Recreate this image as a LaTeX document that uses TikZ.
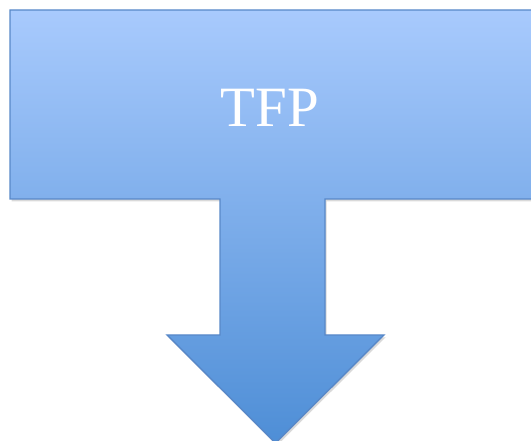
\documentclass[tikz,border=0pt]{standalone}
\usepackage{fontspec}
\setmainfont{Liberation Serif}
\usepackage{tikz}
\usetikzlibrary{positioning,shadows}

\definecolor{tfptop}{RGB}{168,202,253}
\definecolor{tfpbottom}{RGB}{78,142,214}
\definecolor{tfpedge}{RGB}{88,136,200}

\tikzset{
  tarrow/.style={draw=tfpedge,line width=1.4pt,line join=miter,
    top color=tfptop,bottom color=tfpbottom,
    drop shadow={opacity=.3,shadow xshift=1.5pt,shadow yshift=-2.5pt}},
  tlabel/.style={text=white,font=\fontsize{57}{60}\selectfont,inner sep=0pt}
}

\begin{document}
\begin{tikzpicture}
            [
                x=1pt,y=1pt
            ]
            
            \useasboundingbox (0,0) rectangle (531,-441);
            \clip (0,0) rectangle (531,-441);
            
            % box with the arrow hanging below it
            \draw[tarrow] (10,-10) -- (545,-10) -- (545,-199)
                -- (325,-199) -- (325,-335) -- (384,-335)
                -- (275.5,-443) -- (167,-335) -- (220,-335)
                -- (220,-199) -- (10,-199) -- cycle;
        
            \node[tlabel,anchor=base] (tfp) at (270,-127) {TFP};
        \end{tikzpicture}
\end{document}
